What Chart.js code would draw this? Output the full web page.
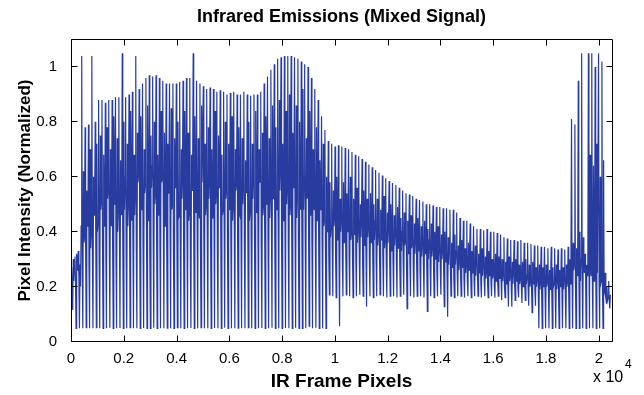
<!DOCTYPE html>
<html>
<head>
<meta charset="utf-8">
<script src="https://cdn.jsdelivr.net/npm/chart.js@4"></script>
<style>
  html, body { margin: 0; padding: 0; background: #fff; }
  #wrap { width: 644px; height: 395px; }
</style>
</head>
<body>
<div id="wrap"><canvas id="c" width="644" height="395"></canvas></div>
<script>
// ---- data (one IR frame line = 128 samples, 160 lines) ----
const samplesPerLine = 128;
const sampleOffsets = [0, 22, 42, 64, 86, 106];

const peakVals = [
 0.27,0.31,0.33,1.04,0.78,0.79,1.04,0.80,0.88,0.88,
 0.87,0.88,0.88,0.89,0.89,1.05,0.89,0.90,0.91,1.04,
 0.92,0.94,0.96,0.97,0.965,0.97,0.96,0.95,0.94,0.94,
 0.94,0.94,0.945,0.95,0.96,0.96,1.05,0.95,0.94,0.93,
 0.92,0.925,0.92,0.91,0.915,0.91,0.90,0.905,0.91,0.90,
 0.90,0.91,0.90,0.895,0.90,0.90,0.91,0.94,0.965,0.99,
 1.01,1.03,1.035,1.04,1.04,1.04,1.035,1.03,1.02,1.01,
 1.00,0.96,0.92,0.88,0.82,0.77,0.73,0.72,0.71,0.715,
 0.71,0.705,0.70,0.69,0.68,0.675,0.665,0.655,0.645,0.635,
 0.625,0.615,0.605,0.595,0.585,0.577,0.57,0.56,0.55,0.54,
 0.535,0.53,0.52,0.515,0.51,0.50,0.50,0.495,0.49,0.49,
 0.485,0.485,0.48,0.48,0.47,0.45,0.44,0.44,0.43,0.42,
 0.41,0.41,0.405,0.41,0.40,0.40,0.395,0.39,0.38,0.375,
 0.37,0.37,0.365,0.37,0.36,0.36,0.355,0.35,0.35,0.345,
 0.345,0.34,0.345,0.34,0.335,0.34,0.335,0.345,0.81,0.79,
 0.95,1.05,0.32,1.05,1.05,1.00,1.05,1.02,0.25,0.22
];

const floorVals = [
 0.115,0.048,0.048,0.048,0.050,0.048,0.048,0.050,0.048,0.048,
 0.048,0.050,0.048,0.048,0.049,0.048,0.048,0.050,0.048,0.048,
 0.048,0.049,0.048,0.048,0.050,0.048,0.048,0.048,0.049,0.048,
 0.048,0.050,0.048,0.048,0.048,0.049,0.048,0.048,0.050,0.048,
 0.048,0.048,0.049,0.048,0.048,0.050,0.048,0.048,0.048,0.049,
 0.048,0.048,0.050,0.048,0.048,0.048,0.049,0.048,0.048,0.050,
 0.048,0.048,0.048,0.049,0.048,0.048,0.050,0.048,0.048,0.048,
 0.056,0.048,0.050,0.048,0.048,0.048,0.170,0.165,0.160,0.056,
 0.165,0.170,0.165,0.160,0.165,0.170,0.165,0.127,0.165,0.160,
 0.165,0.170,0.165,0.160,0.165,0.165,0.160,0.165,0.170,0.120,
 0.165,0.160,0.165,0.165,0.160,0.110,0.165,0.160,0.165,0.170,
 0.127,0.090,0.165,0.160,0.165,0.165,0.160,0.165,0.160,0.165,
 0.165,0.160,0.165,0.160,0.165,0.160,0.165,0.150,0.160,0.127,
 0.127,0.150,0.160,0.140,0.150,0.130,0.105,0.130,0.048,0.048,
 0.048,0.048,0.048,0.048,0.048,0.048,0.048,0.048,0.048,0.048,
 0.048,0.048,0.048,0.048,0.048,0.048,0.048,0.048,0.140,0.120
];

const midAVals = [
 0.25,0.28,0.30,0.42,0.38,0.45,0.40,0.50,0.44,0.52,
 0.48,0.55,0.42,0.58,0.50,0.46,0.60,0.52,0.44,0.56,
 0.62,0.50,0.58,0.46,0.64,0.54,0.48,0.60,0.52,0.66,
 0.50,0.58,0.46,0.62,0.55,0.48,0.60,0.52,0.45,0.58,
 0.50,0.62,0.47,0.55,0.60,0.48,0.56,0.62,0.50,0.58,
 0.46,0.60,0.54,0.48,0.62,0.52,0.58,0.50,0.64,0.55,
 0.60,0.48,0.66,0.54,0.58,0.50,0.62,0.56,0.48,0.60,
 0.52,0.56,0.48,0.54,0.50,0.45,0.48,0.42,0.46,0.44,
 0.47,0.42,0.45,0.40,0.44,0.42,0.46,0.40,0.43,0.41,
 0.44,0.40,0.42,0.39,0.43,0.38,0.41,0.39,0.40,0.37,
 0.40,0.36,0.39,0.37,0.38,0.35,0.37,0.36,0.34,0.36,
 0.34,0.32,0.35,0.31,0.33,0.30,0.32,0.29,0.31,0.28,
 0.30,0.27,0.29,0.26,0.28,0.25,0.27,0.26,0.25,0.27,
 0.24,0.26,0.25,0.23,0.25,0.24,0.22,0.24,0.23,0.22,
 0.24,0.22,0.23,0.21,0.23,0.22,0.24,0.22,0.30,0.28,
 0.26,0.30,0.25,0.28,0.24,0.27,0.25,0.22,0.18,0.16
];

const midBVals = [
 0.20,0.22,0.24,0.30,0.35,0.28,0.33,0.38,0.30,0.36,
 0.32,0.40,0.34,0.30,0.42,0.36,0.31,0.44,0.38,0.33,
 0.40,0.35,0.45,0.32,0.38,0.42,0.34,0.46,0.36,0.40,
 0.33,0.44,0.38,0.35,0.42,0.30,0.40,0.45,0.34,0.38,
 0.42,0.36,0.46,0.33,0.40,0.44,0.35,0.38,0.43,0.36,
 0.40,0.34,0.45,0.38,0.36,0.44,0.34,0.42,0.38,0.46,
 0.36,0.43,0.38,0.46,0.35,0.42,0.40,0.36,0.44,0.38,
 0.42,0.36,0.40,0.35,0.38,0.33,0.30,0.34,0.31,0.33,
 0.30,0.34,0.31,0.32,0.30,0.33,0.29,0.32,0.30,0.31,
 0.29,0.32,0.30,0.28,0.31,0.29,0.30,0.28,0.29,0.27,
 0.29,0.27,0.28,0.26,0.28,0.27,0.26,0.27,0.25,0.26,
 0.25,0.24,0.26,0.23,0.25,0.24,0.23,0.22,0.24,0.22,
 0.23,0.21,0.22,0.21,0.22,0.20,0.21,0.22,0.20,0.21,
 0.20,0.21,0.19,0.20,0.21,0.19,0.20,0.19,0.20,0.18,
 0.19,0.20,0.18,0.19,0.18,0.19,0.18,0.19,0.24,0.22,
 0.28,0.22,0.26,0.30,0.24,0.27,0.22,0.20,0.16,0.15
];

const secVals = [
 0.30,0.32,0.28,0.62,0.55,0.70,0.60,0.72,0.75,0.68,
 0.78,0.70,0.82,0.74,0.66,0.80,0.72,0.84,0.68,0.76,
 0.82,0.70,0.86,0.75,0.80,0.68,0.84,0.76,0.72,0.85,
 0.74,0.80,0.70,0.84,0.76,0.68,0.82,0.74,0.86,0.72,
 0.78,0.70,0.84,0.75,0.68,0.80,0.72,0.82,0.70,0.78,
 0.74,0.66,0.80,0.72,0.84,0.70,0.76,0.82,0.74,0.86,
 0.78,0.88,0.72,0.84,0.90,0.76,0.86,0.80,0.92,0.74,
 0.84,0.70,0.78,0.66,0.72,0.60,0.58,0.55,0.60,0.52,
 0.58,0.54,0.60,0.52,0.56,0.50,0.55,0.52,0.54,0.50,
 0.52,0.48,0.53,0.47,0.50,0.46,0.49,0.45,0.47,0.44,
 0.46,0.43,0.45,0.42,0.44,0.41,0.43,0.40,0.42,0.39,
 0.40,0.38,0.36,0.39,0.35,0.37,0.34,0.36,0.33,0.35,
 0.32,0.34,0.31,0.33,0.30,0.32,0.31,0.30,0.29,0.31,
 0.29,0.30,0.28,0.29,0.30,0.28,0.29,0.27,0.28,0.27,
 0.28,0.26,0.27,0.28,0.26,0.27,0.28,0.30,0.36,0.34,
 0.40,0.38,0.28,0.68,0.64,0.72,0.60,0.66,0.20,0.17
];

const midCVals = [
 0.22,0.26,0.20,0.36,0.42,0.34,0.46,0.40,0.48,0.42,
 0.52,0.45,0.50,0.40,0.55,0.48,0.42,0.52,0.46,0.58,
 0.48,0.54,0.44,0.56,0.50,0.46,0.58,0.42,0.54,0.48,
 0.56,0.45,0.52,0.48,0.44,0.55,0.47,0.50,0.58,0.46,
 0.52,0.45,0.50,0.56,0.46,0.52,0.48,0.44,0.55,0.47,
 0.50,0.56,0.44,0.52,0.47,0.58,0.46,0.50,0.45,0.52,
 0.48,0.55,0.44,0.50,0.46,0.56,0.45,0.52,0.48,0.54,
 0.46,0.50,0.44,0.48,0.42,0.40,0.38,0.42,0.37,0.40,
 0.36,0.40,0.37,0.39,0.36,0.38,0.35,0.38,0.36,0.37,
 0.35,0.37,0.34,0.36,0.33,0.35,0.34,0.33,0.35,0.32,
 0.34,0.32,0.33,0.31,0.32,0.30,0.31,0.30,0.29,0.30,
 0.29,0.28,0.27,0.28,0.26,0.27,0.25,0.26,0.25,0.24,
 0.25,0.24,0.23,0.24,0.23,0.22,0.23,0.22,0.21,0.22,
 0.21,0.22,0.21,0.20,0.21,0.20,0.21,0.20,0.19,0.20,
 0.20,0.19,0.20,0.19,0.20,0.19,0.20,0.21,0.26,0.24,
 0.22,0.28,0.24,0.26,0.22,0.25,0.21,0.19,0.15,0.17
];

const xTickValues = [0, 2000, 4000, 6000, 8000, 10000, 12000, 14000, 16000, 18000, 20000];
const xTickLabels = ['0', '0.2', '0.4', '0.6', '0.8', '1', '1.2', '1.4', '1.6', '1.8', '2'];
const yTickValues = [0, 0.2, 0.4, 0.6, 0.8, 1];
const yTickLabels = ['0', '0.2', '0.4', '0.6', '0.8', '1'];
const xMax = 20500;
const yMax = 1.1;

// ---- build the point list from the per-line readings ----
const points = [];
for (let i = 0; i < peakVals.length; i++) {
  const start = i * samplesPerLine;
  const vals = [midAVals[i], peakVals[i], midBVals[i], floorVals[i], secVals[i], midCVals[i]];
  vals.forEach((v, j) => points.push({ x: start + sampleOffsets[j], y: v }));
}

const FONT = "'Liberation Sans', Arial, Helvetica, sans-serif";
Chart.defaults.font.family = FONT;
Chart.defaults.color = '#000';

const boxPlugin = {
  id: 'boxTicks',
  afterDraw(chart) {
    const { ctx, chartArea: a, scales } = chart;
    const L = Math.round(a.left) + 0.5, R = Math.round(a.right) + 0.5;
    const T = Math.round(a.top) - 0.5, B = Math.round(a.bottom) - 0.5;
    ctx.save();
    ctx.strokeStyle = '#000';
    ctx.lineWidth = 1;
    ctx.beginPath();
    ctx.rect(L, T, R - L, B - T);
    const tl = 6;
    xTickValues.forEach(v => {
      const px = Math.round(scales.x.getPixelForValue(v)) + 0.5;
      ctx.moveTo(px, B); ctx.lineTo(px, B - tl);
      ctx.moveTo(px, T); ctx.lineTo(px, T + tl);
    });
    yTickValues.forEach(v => {
      const py = Math.round(scales.y.getPixelForValue(v)) - 0.5;
      ctx.moveTo(L, py); ctx.lineTo(L + tl, py);
      ctx.moveTo(R, py); ctx.lineTo(R - tl, py);
    });
    ctx.stroke();
    // exponent label of the x axis
    ctx.fillStyle = '#000';
    ctx.textBaseline = 'alphabetic';
    ctx.textAlign = 'left';
    ctx.font = '16px ' + FONT;
    ctx.fillText('x 10', 593, 382);
    ctx.font = '12px ' + FONT;
    ctx.fillText('4', 625, 368);
    ctx.restore();
  }
};

new Chart(document.getElementById('c'), {
  type: 'line',
  data: {
    datasets: [{
      data: points,
      borderColor: 'rgb(40,60,160)',
      borderWidth: 1.2,
      pointRadius: 0,
      tension: 0,
      fill: false
    }]
  },
  options: {
    responsive: false,
    animation: false,
    events: [],
    layout: { padding: { left: 0, right: 32, top: 0, bottom: 0 } },
    plugins: {
      legend: { display: false },
      tooltip: { enabled: false },
      title: {
        display: true,
        fullSize: false,
        text: 'Infrared Emissions (Mixed Signal)',
        font: { size: 18, weight: 'bold' },
        color: '#000',
        padding: { top: 6.7, bottom: 11.2 }
      }
    },
    scales: {
      x: {
        type: 'linear',
        min: 0,
        max: xMax,
        afterBuildTicks: s => { s.ticks = xTickValues.map(v => ({ value: v })); },
        afterFit: s => { s.height = 53.5; },
        grid: { display: false, drawTicks: false },
        border: { display: false },
        ticks: {
          padding: 8,
          maxRotation: 0,
          autoSkip: false,
          font: { size: 15 },
          color: '#000',
          callback: (v, i) => xTickLabels[i]
        },
        title: {
          display: true,
          text: 'IR Frame Pixels',
          font: { size: 19, weight: 'bold' },
          color: '#000',
          padding: { top: 0, bottom: 1.6 }
        }
      },
      y: {
        type: 'linear',
        min: 0,
        max: yMax,
        afterBuildTicks: s => { s.ticks = yTickValues.map(v => ({ value: v })); },
        afterFit: s => { s.width = 71; },
        grid: { display: false, drawTicks: false },
        border: { display: false },
        ticks: {
          padding: 14,
          autoSkip: false,
          font: { size: 15 },
          color: '#000',
          callback: (v, i) => yTickLabels[i]
        },
        title: {
          display: true,
          text: 'Pixel Intensity (Normalized)',
          font: { size: 17, weight: 'bold' },
          color: '#000',
          padding: { top: 14.8, bottom: 0 }
        }
      }
    }
  },
  plugins: [boxPlugin]
});
</script>
</body>
</html>
